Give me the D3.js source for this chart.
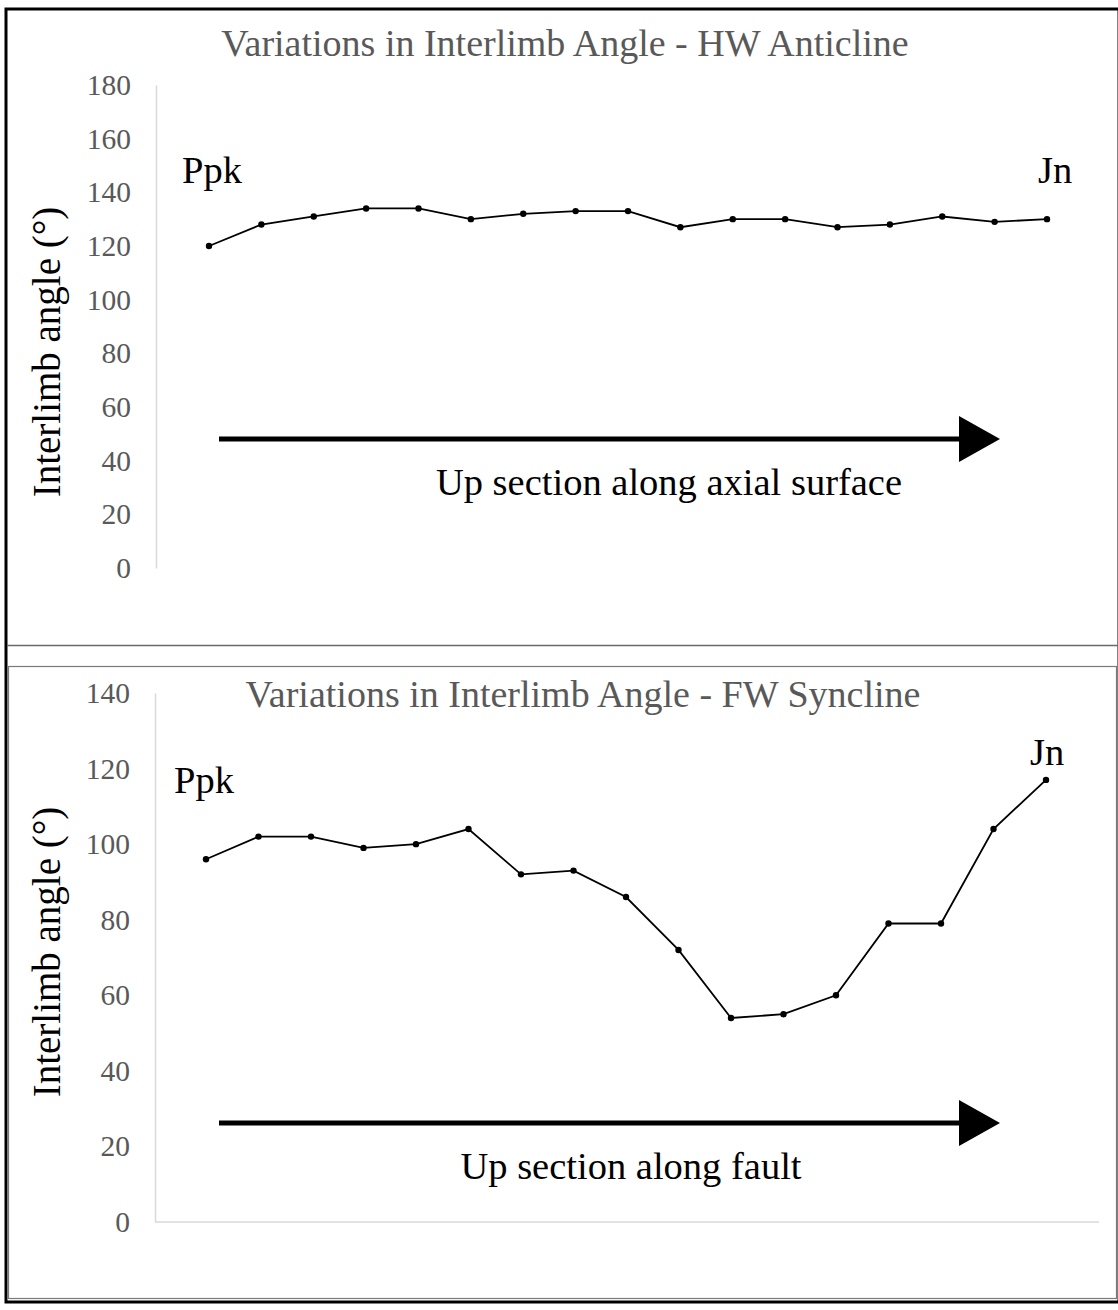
<!DOCTYPE html>
<html>
<head>
<meta charset="utf-8">
<script src="https://cdn.jsdelivr.net/npm/d3@7"></script>
<style>
  body { margin: 0; background: #fff; }
  text { font-family: "Liberation Serif", "Times New Roman", serif; }
</style>
</head>
<body>
<div id="chart"></div>
<script>
// data
const stations = d3.range(1, 18);
const hwAngles = [120, 128, 131, 134, 134, 130, 132, 133, 133, 127, 130, 130, 127, 128, 131, 129, 130];
const fwAngles = [96, 102, 102, 99, 100, 104, 92, 93, 86, 72, 54, 55, 60, 79, 79, 104, 117];
const hwTicks = [0, 20, 40, 60, 80, 100, 120, 140, 160, 180];
const fwTicks = [0, 20, 40, 60, 80, 100, 120, 140];

const W = 1118;
const H = 1310;

const svg = d3.select('#chart')
  .append('svg')
  .attr('width', W)
  .attr('height', H);

// frame
svg.append('rect')
  .attr('x', 6).attr('y', 9)
  .attr('width', 1113).attr('height', 1293)
  .attr('fill', 'none')
  .attr('stroke', '#000')
  .attr('stroke-width', 3);

svg.append('line')
  .attr('x1', 7).attr('x2', W)
  .attr('y1', 645.5).attr('y2', 645.5)
  .attr('stroke', '#6a6a6a')
  .attr('stroke-width', 1.5);

svg.append('rect')
  .attr('x', 8.5).attr('y', 666.5)
  .attr('width', 1108).attr('height', 632)
  .attr('fill', 'none')
  .attr('stroke', '#7a7a7a')
  .attr('stroke-width', 1.2);

function panel(cfg) {
  const g = svg.append('g');

  const x = d3.scalePoint()
    .domain(stations)
    .range(cfg.xRange);
  const y = d3.scaleLinear()
    .domain([0, cfg.yMax])
    .range(cfg.yRange);

  // y axis
  const axisY = d3.axisLeft(y)
    .tickValues(cfg.ticks)
    .tickSize(0)
    .tickPadding(25);

  const ay = g.append('g')
    .attr('transform', `translate(${cfg.axisX}, 0)`)
    .call(axisY);
  ay.attr('font-family', null).attr('font-size', null);
  ay.select('.domain').attr('stroke', '#d9d9d9').attr('stroke-width', 1.5);
  ay.selectAll('text')
    .attr('fill', '#595959')
    .style('font-size', '29.5px')
    .style('font-family', '"Liberation Serif", serif');

  if (cfg.xAxisLine) {
    g.append('line')
      .attr('x1', cfg.axisX).attr('x2', cfg.xAxisEnd)
      .attr('y1', y(0)).attr('y2', y(0))
      .attr('stroke', '#d9d9d9')
      .attr('stroke-width', 1.5);
  }

  // title
  g.append('text')
    .attr('x', cfg.titleX)
    .attr('y', cfg.titleY)
    .attr('text-anchor', 'middle')
    .attr('fill', '#595959')
    .style('font-size', '38px')
    .text(cfg.title);

  // y axis label
  g.append('text')
    .attr('transform', `translate(60, ${cfg.labelY}) rotate(-90)`)
    .attr('text-anchor', 'middle')
    .attr('fill', '#000')
    .style('font-size', '39px')
    .text('Interlimb angle (°)');

  // line + markers
  const line = d3.line()
    .x((d, i) => x(stations[i]))
    .y(d => y(d));

  g.append('path')
    .datum(cfg.values)
    .attr('d', line)
    .attr('fill', 'none')
    .attr('stroke', '#000')
    .attr('stroke-width', 1.8);

  g.selectAll('.pt')
    .data(cfg.values)
    .enter()
    .append('circle')
      .attr('cx', (d, i) => x(stations[i]))
      .attr('cy', d => y(d))
      .attr('r', 3.2)
      .attr('fill', '#000');

  // end labels
  g.append('text')
    .attr('x', cfg.ppk[0]).attr('y', cfg.ppk[1])
    .style('font-size', '38.5px')
    .text('Ppk');
  g.append('text')
    .attr('x', cfg.jn[0]).attr('y', cfg.jn[1])
    .style('font-size', '38.5px')
    .text('Jn');

  // arrow
  g.append('line')
    .attr('x1', 219).attr('x2', 962)
    .attr('y1', cfg.arrowY).attr('y2', cfg.arrowY)
    .attr('stroke', '#000')
    .attr('stroke-width', 5);
  g.append('path')
    .attr('d', `M959,${cfg.arrowY - 23}L1000,${cfg.arrowY}L959,${cfg.arrowY + 23}Z`)
    .attr('fill', '#000');

  g.append('text')
    .attr('x', cfg.noteX)
    .attr('y', cfg.arrowY + 56)
    .attr('text-anchor', 'middle')
    .style('font-size', '38.5px')
    .text(cfg.note);
}

panel({
  title: 'Variations in Interlimb Angle - HW Anticline',
  titleX: 565, titleY: 56,
  values: hwAngles, ticks: hwTicks, yMax: 180,
  yRange: [568, 85], xRange: [209, 1047],
  axisX: 156, xAxisLine: false,
  labelY: 352,
  ppk: [182, 183], jn: [1038, 183],
  arrowY: 439,
  note: 'Up section along axial surface', noteX: 669
});

panel({
  title: 'Variations in Interlimb Angle - FW Syncline',
  titleX: 583, titleY: 707,
  values: fwAngles, ticks: fwTicks, yMax: 140,
  yRange: [1222, 693], xRange: [206, 1046],
  axisX: 155, xAxisLine: true, xAxisEnd: 1099,
  labelY: 952,
  ppk: [174, 793], jn: [1030, 765],
  arrowY: 1123,
  note: 'Up section along fault', noteX: 631
});
</script>
</body>
</html>
